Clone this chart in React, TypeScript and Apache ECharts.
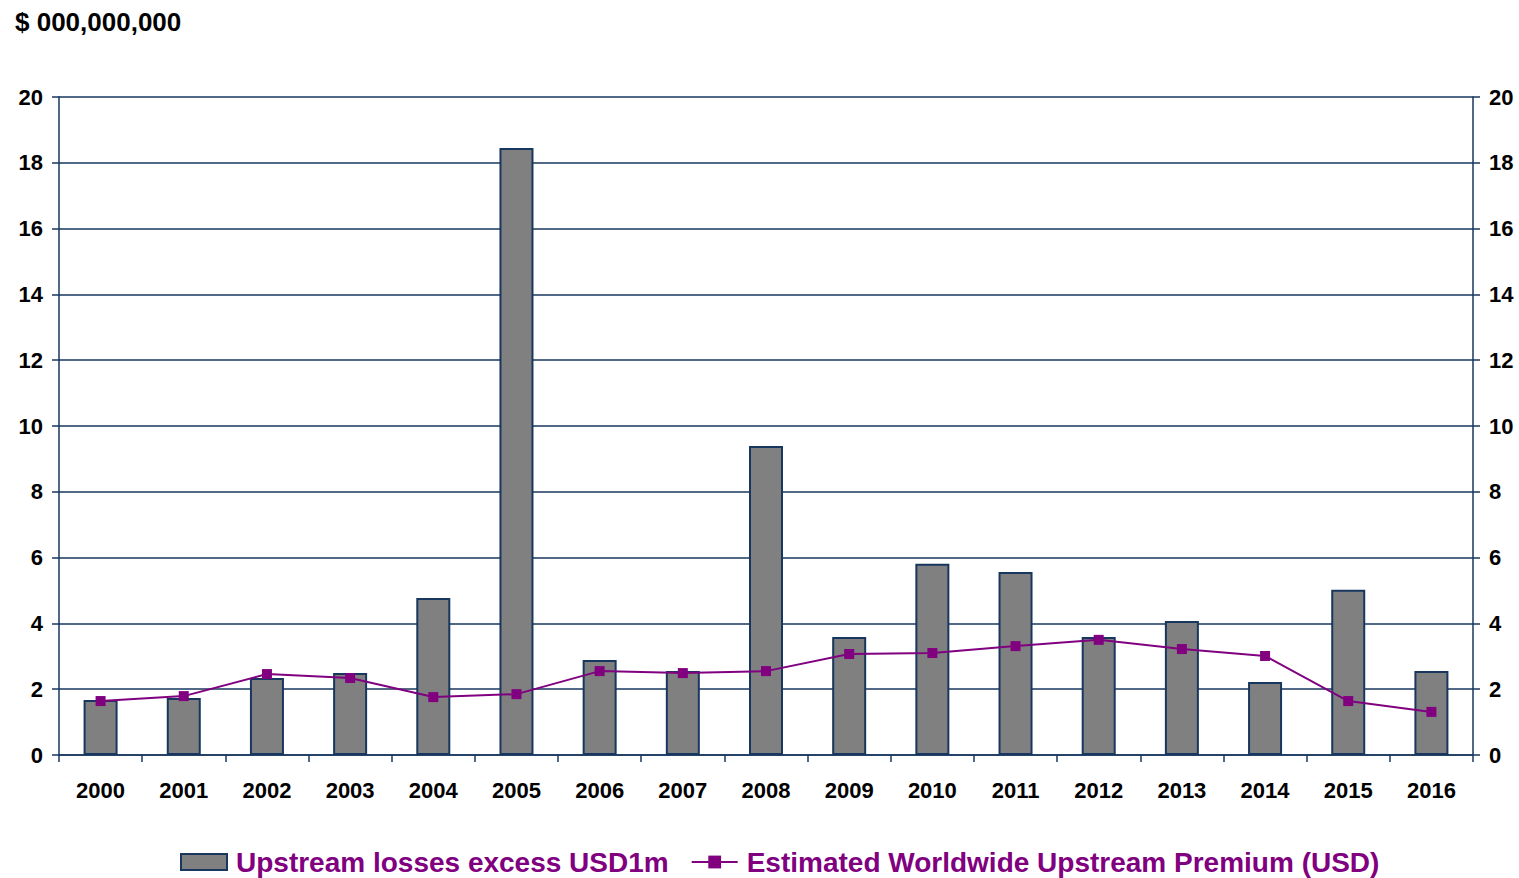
import React, { useEffect, useRef } from "react";
import * as echarts from "echarts";

const years = ["2000","2001","2002","2003","2004","2005","2006","2007","2008","2009","2010","2011","2012","2013","2014","2015","2016"];
const losses = [1.67, 1.73, 2.34, 2.49, 4.77, 18.45, 2.89, 2.55, 9.39, 3.59, 5.81, 5.56, 3.59, 4.07, 2.22, 5.02, 2.55];
const premium = [1.64, 1.79, 2.46, 2.34, 1.76, 1.85, 2.55, 2.49, 2.55, 3.07, 3.10, 3.31, 3.50, 3.22, 3.01, 1.64, 1.31];

const NAVY = "#17375e";
const PURPLE = "#800080";
const FONT = "'Liberation Sans', Arial, sans-serif";

export default function App() {
  const ref = useRef<HTMLDivElement>(null);
  useEffect(() => {
    const chart = echarts.init(ref.current!, null, { renderer: "svg" });
    const yAxisBase = (pos: "left" | "right") => ({
      type: "value",
      position: pos,
      min: 0,
      max: 20,
      interval: 2,
      axisLine: { show: true, lineStyle: { color: NAVY, width: 1.5 } },
      axisTick: { show: true, length: 7, lineStyle: { color: NAVY, width: 1.5 } },
      axisLabel: { color: "#000", fontSize: 22, fontWeight: "bold", fontFamily: FONT, margin: 16 },
      splitLine: { show: pos === "left", lineStyle: { color: NAVY, width: 1.5 } },
    });
    chart.setOption({
      animation: false,
      backgroundColor: "#fff",
      title: {
        text: "$ 000,000,000",
        left: 10,
        top: 4,
        textStyle: { color: "#000", fontSize: 26, fontWeight: "bold", fontFamily: FONT },
      },
      grid: { left: 59, right: 46, top: 97, bottom: 123, containLabel: false },
      legend: {
        left: 175,
        top: 843,
        itemWidth: 46,
        itemHeight: 16,
        itemGap: 22,
        textStyle: { color: PURPLE, fontSize: 28, fontWeight: "bold", fontFamily: FONT, padding: [0, 0, 0, 4] },
        data: [
          { name: "Upstream losses excess USD1m", icon: "rect", itemStyle: { color: "#808080", borderColor: NAVY, borderWidth: 2 } },
          { name: "Estimated Worldwide Upstream Premium (USD)" },
        ],
      },
      xAxis: {
        type: "category",
        data: years,
        axisLine: { show: true, lineStyle: { color: NAVY, width: 1.5 } },
        axisTick: { show: true, length: 7, lineStyle: { color: NAVY, width: 1.5 } },
        axisLabel: { color: "#000", fontSize: 22, fontWeight: "bold", fontFamily: FONT, margin: 24 },
      },
      yAxis: [yAxisBase("left"), yAxisBase("right")],
      series: [
        {
          name: "Upstream losses excess USD1m",
          type: "bar",
          data: losses,
          barWidth: 34,
          itemStyle: { color: "#808080", borderColor: NAVY, borderWidth: 2 },
        },
        {
          name: "Estimated Worldwide Upstream Premium (USD)",
          type: "line",
          data: premium,
          symbol: "rect",
          symbolSize: 10,
          lineStyle: { color: PURPLE, width: 2 },
          itemStyle: { color: PURPLE },
        },
      ],
    });
    return () => chart.dispose();
  }, []);
  return <div ref={ref} style={{ width: 1519, height: 878, position: "absolute", left: 0, top: 0 }} />;
}
